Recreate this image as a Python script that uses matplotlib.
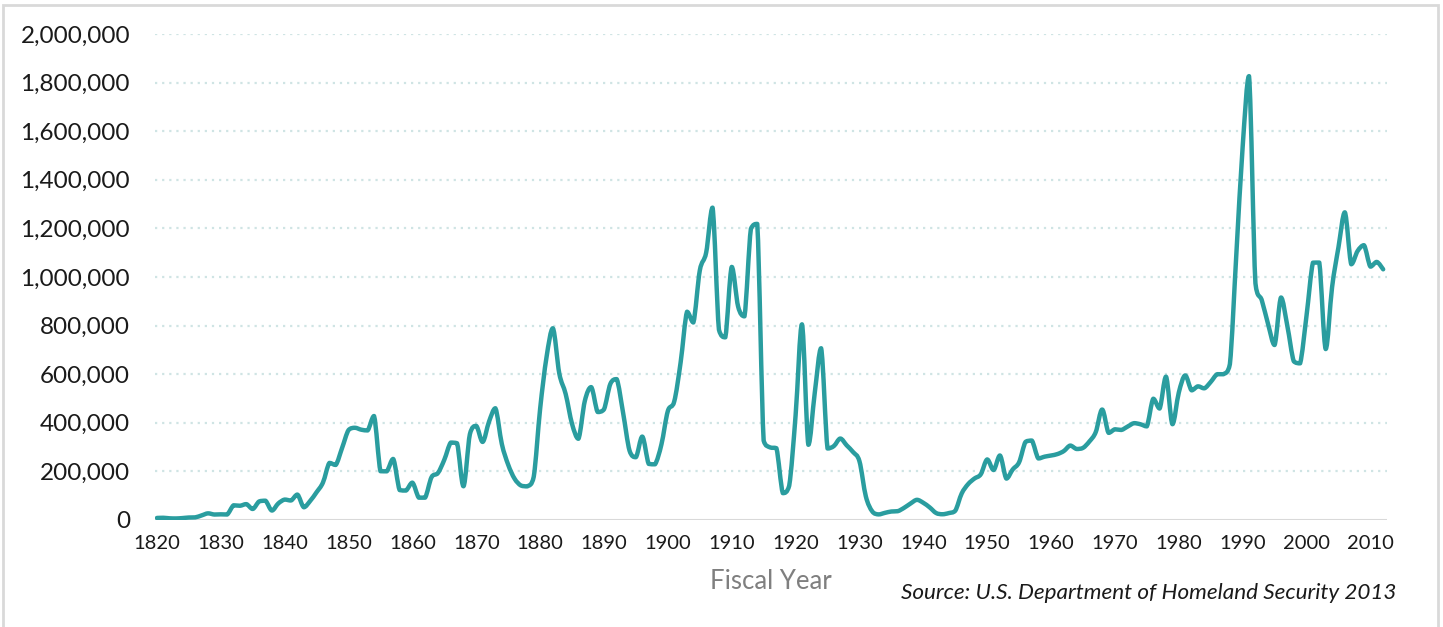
import matplotlib.pyplot as plt
from matplotlib.patches import Rectangle, PathPatch
from matplotlib.path import Path
from matplotlib.ticker import FuncFormatter

# Persons obtaining lawful permanent resident status, fiscal years 1820-2012
years = list(range(1820, 2013))
persons = [
    8385, 9127, 6911, 6354, 7912, 10199, 10837, 18875, 27382, 22520,            # 1820s
    23322, 22633, 60482, 58640, 65365, 45374, 76242, 79340, 38914, 68069,       # 1830s
    84066, 80289, 104565, 52496, 78615, 114371, 154416, 234968, 226527, 297024,  # 1840s
    369980, 379466, 371603, 368645, 427833, 200877, 200436, 251306, 123126, 121282,  # 1850s
    153640, 91918, 91985, 176282, 193418, 248120, 318568, 315722, 138840, 352768,    # 1860s
    387203, 321350, 404806, 459803, 313339, 227498, 169986, 141857, 138469, 177826,  # 1870s
    457257, 669431, 788992, 603322, 518592, 395346, 334203, 490109, 546889, 444427,  # 1880s
    455302, 560319, 579663, 439730, 285631, 258536, 343267, 230832, 229299, 311715,  # 1890s
    448572, 487918, 648743, 857046, 812870, 1026499, 1100735, 1285349, 782870, 751786,  # 1900s
    1041570, 878587, 838172, 1197892, 1218480, 326700, 298826, 295403, 110618, 141132,  # 1910s
    430001, 805228, 309556, 522919, 706896, 294314, 304488, 335175, 307255, 279678,     # 1920s
    241700, 97139, 35576, 23068, 29470, 34956, 36329, 50244, 67895, 82998,              # 1930s
    70756, 51776, 28781, 23725, 28551, 38119, 108721, 147292, 170570, 188317,           # 1940s
    249187, 205717, 265520, 170434, 208177, 237790, 321625, 326867, 253265, 260686,     # 1950s
    265398, 271344, 283763, 306260, 292248, 296697, 323040, 361972, 454448, 358579,     # 1960s
    373326, 370478, 384685, 398515, 393919, 385378, 499093, 458755, 589810, 394244,     # 1970s
    524295, 595014, 533624, 550052, 541811, 568149, 600027, 599889, 641346, 1088978,    # 1980s
    1535872, 1826595, 973977, 903916, 803993, 720177, 915560, 797847, 653206, 644787,   # 1990s
    841002, 1058902, 1059356, 703542, 957883, 1122257, 1266129, 1052415, 1107126, 1130818,  # 2000s
    1042625, 1062040, 1031631,                                                           # 2010s
]
year_ticks = list(range(1820, 2011, 10))
value_ticks = list(range(0, 2000001, 200000))

line_color = '#2a9d9f'
font = 'Lato'


def smooth_path(xs, ys, k=1 / 6):
    # Bezier path through the data points, like a spreadsheet "smoothed line";
    # control points are kept between the segment's ends so peaks don't overshoot
    pts = list(zip(xs, ys))
    verts = [pts[0]]
    codes = [Path.MOVETO]
    n = len(pts)
    for i in range(n - 1):
        p0 = pts[max(i - 1, 0)]
        p1 = pts[i]
        p2 = pts[i + 1]
        p3 = pts[min(i + 2, n - 1)]
        lo, hi = min(p1[1], p2[1]), max(p1[1], p2[1])
        c1y = min(max(p1[1] + (p2[1] - p0[1]) * k, lo), hi)
        c2y = min(max(p2[1] - (p3[1] - p1[1]) * k, lo), hi)
        c1 = (p1[0] + (p2[0] - p0[0]) * k, c1y)
        c2 = (p2[0] - (p3[0] - p1[0]) * k, c2y)
        verts += [c1, c2, p2]
        codes += [Path.CURVE4] * 3
    return Path(verts, codes)


fig = plt.figure(figsize=(14.43, 6.27), dpi=100)
ax = fig.add_axes([155 / 1443, 1 - 520 / 627, (1387 - 155) / 1443, (520 - 34) / 627])

ax.add_patch(PathPatch(smooth_path(years, persons), facecolor='none', edgecolor=line_color,
                       linewidth=3.2, joinstyle='round', capstyle='round', zorder=3))

ax.set_xlim(1819.7, 2012.6)
ax.set_ylim(0, 2000000)
ax.set_xticks(year_ticks)
ax.set_yticks(value_ticks)
ax.yaxis.set_major_formatter(FuncFormatter(lambda v, pos: f'{int(v):,}'))

# dotted horizontal gridlines, solid light baseline
for v in value_ticks[1:]:
    ax.axhline(v, color='#cfe4e4', linewidth=1.6, linestyle=(0, (1, 2.2)), zorder=1)
ax.axhline(0, color='#d9d9d9', linewidth=1.5, zorder=2)

for side in ['top', 'right', 'left', 'bottom']:
    ax.spines[side].set_visible(False)
ax.tick_params(axis='both', length=0)
ax.tick_params(axis='y', pad=18, labelsize=17.5, labelcolor='#1a1a1a')
ax.tick_params(axis='x', pad=11, labelsize=14.5, labelcolor='#1a1a1a')
for lbl in ax.get_xticklabels() + ax.get_yticklabels():
    lbl.set_fontfamily(font)

ax.set_xlabel('Fiscal Year', fontsize=18.5, color='#7f7f7f', fontfamily=font, labelpad=12)

fig.text(1396 / 1443, 1 - 593 / 627, 'Source: U.S. Department of Homeland Security 2013',
         ha='right', va='center', fontsize=16.2, style='italic', color='#1a1a1a', fontfamily=font)

# light grey frame round the chart
fig.patches.append(Rectangle((3 / 1443, -0.05), 1435 / 1443, 1.05 - 5 / 627,
                             transform=fig.transFigure, fill=False,
                             edgecolor='#d9d9d9', linewidth=2))

fig.savefig('out.png', dpi=100)
